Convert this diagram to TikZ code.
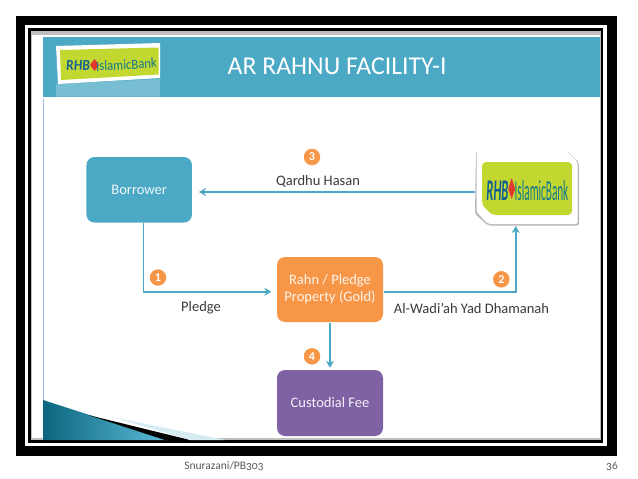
\documentclass[tikz,border=0pt]{standalone}
\usepackage{fontspec}
\setmainfont{Carlito}
\usetikzlibrary{arrows.meta}
\definecolor{teal1}{HTML}{4BA9C5}
\definecolor{orange1}{HTML}{F79646}
\definecolor{purple1}{HTML}{7F62A4}
\definecolor{lime1}{HTML}{C3D731}
\definecolor{rhbblue}{HTML}{0F5F96}
\definecolor{rhbgreen}{HTML}{14788C}
\definecolor{rhbred}{HTML}{E2392F}
\definecolor{txt}{HTML}{3A3A3A}
\definecolor{wedgeA}{HTML}{0B667F}
\definecolor{wedgeB}{HTML}{5DBBD8}
\tikzset{
 box/.style={draw=none,fill=#1,rounded corners=8pt,text=white!90!#1,align=center,font=\fontsize{14.5}{17}\selectfont,inner sep=0pt},
 conn/.style={draw=teal1,line width=1.8pt,-{Stealth[length=7pt,width=8pt]}},
 num/.style={circle,fill=orange1,text=white,minimum size=16.5pt,inner sep=0pt,font=\fontsize{12}{12}\selectfont\bfseries},
 lbl/.style={text=txt,font=\fontsize{14.5}{16}\selectfont,inner sep=0pt},
 foot/.style={text=black!65,font=\fontsize{11.5}{13}\selectfont,inner sep=0pt}
}
\begin{document}
\begin{tikzpicture}[x=1pt,y=-1pt]
\useasboundingbox (0,0) rectangle (638,479);
\fill[white] (0,0) rectangle (638,479);
% frame
\fill[black] (16,16) rectangle (617,456);
\fill[white] (25.3,25.3) rectangle (606.7,446);
\fill[black] (28,28) rectangle (603.3,443);
\fill[black!25] (31,31) rectangle (601,440);
\fill[white] (32,35) rectangle (600,438);
% slide
\fill[teal1] (43,36.7) rectangle (600,96.5);
\draw[blue!30!teal1!50,line width=0.7pt] (43,99) -- (43,400);
% corner wedge
\begin{scope}
\clip (43,400) -- (43,440) -- (167,440) -- cycle;
\shade[left color=wedgeA,right color=wedgeB] (43,400) rectangle (167,440);
\end{scope}
\fill[black] (88,415) -- (190,440) -- (165,440) -- cycle;
\fill[teal1!22] (112,417) -- (225,440) -- (190,440) -- cycle;
% header logo
\fill[teal1!75!white] (56,84) -- (160,79) -- (160,96.5) -- (56,96.5) -- cycle;
\fill[white] (56,46) -- (160,43) -- (160,78) -- (58,84) -- cycle;
\fill[lime1] (60,50) -- (158.5,47.5) -- (158.5,74.5) -- (61,80) -- cycle;
\node[inner sep=0pt,rotate=3,transform shape,xscale=0.9,text=rhbblue,font=\fontsize{15}{15}\selectfont\bfseries\itshape] (hr) at (78,65.5) {RHB};
\fill[rhbred] (94.5,59) -- (99,65) -- (94.5,71) -- (90,65) -- cycle;
\node[inner sep=0pt,text=rhbgreen,font=\fontsize{14}{14}\selectfont,xscale=0.9,rotate=3,transform shape] (hi) at (126.5,64.5) {IslamicBank};
% title
\node[inner sep=0pt,anchor=west,text=white,font=\fontsize{25.7}{26}\selectfont] (title) at (227.5,66.5) {AR RAHNU FACILITY-I};
% nodes
\node[box=teal1,minimum width=105.5pt,minimum height=65.5pt] (borrower) at (139.2,189.8) {Borrower};
\node[box=orange1,minimum width=106pt,minimum height=65pt] (rahn) at (330,289.5) {Rahn / Pledge\\Property (Gold)};
\node[box=purple1,minimum width=106pt,minimum height=66pt] (fee) at (330,403) {Custodial Fee};
% bank
\fill[black!28,rounded corners=2pt] (476,151) -- (567,151) -- (579,163) -- (579,225.5) -- (488,225.5) -- (475,214) -- cycle;
\fill[white,rounded corners=2pt] (476.5,150.5) -- (566,150.5) -- (577.5,162) -- (577.5,224) -- (488,224) -- (476.5,212) -- cycle;
\fill[lime1,rounded corners=4pt] (482,162) -- (572,162) -- (572,215) -- (492,215) -- (482,205) -- cycle;
\node[inner sep=0pt,text=rhbblue,font=\fontsize{30}{30}\selectfont\bfseries\itshape,xscale=0.42,transform shape] (br) at (497.5,190.5) {RHB};
\fill[rhbred] (511.7,178) -- (515.2,189) -- (511.7,199) -- (508.2,189) -- cycle;
\node[inner sep=0pt,text=rhbgreen,font=\fontsize{29}{29}\selectfont,xscale=0.385,transform shape] (bi) at (541.5,191) {IslamicBank};
% connector ends
\coordinate (bankin) at (474.5,192);
\coordinate (bankbottom) at (515.7,226);
\coordinate (bortip) at (199,192);
% connectors
\draw[conn] ([xshift=4.3pt]borrower.south) |- ([xshift=-5.5pt,yshift=-2.2pt]rahn.west);
\draw[conn] ([xshift=1pt,yshift=-2.2pt]rahn.east) -| (bankbottom);
\draw[conn] (bankin) -- (bortip);
\draw[conn] ([yshift=-1pt]rahn.south) -- ([yshift=2pt]fee.north);
% numbers
\node[num] (n1) at (158,277.5) {1};
\node[num] (n2) at (501.3,279.3) {2};
\node[num] (n3) at (312,157) {3};
\node[num] (n4) at (312,356.3) {4};
% labels
\node[lbl] (l3) at (318,181) {Qardhu Hasan};
\node[lbl] (l1) at (201,308) {Pledge};
\node[lbl] (l2) at (471.5,308) {Al-Wadi’ah Yad Dhamanah};
% footer
\node[foot] (f1) at (224,466) {\addfontfeatures{Numbers=OldStyle}Snurazani/PB303};
\node[foot] (f2) at (612,466.5) {\addfontfeatures{Numbers=OldStyle}36};
\end{tikzpicture}
\end{document}
